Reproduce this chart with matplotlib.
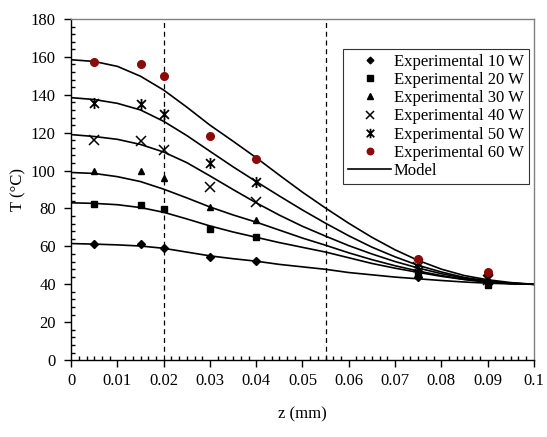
import matplotlib
matplotlib.use("Agg")
import matplotlib.pyplot as plt
from matplotlib.path import Path
from matplotlib.ticker import MultipleLocator, AutoMinorLocator, FuncFormatter

plt.rcParams["font.family"] = ["Liberation Serif", "DejaVu Serif"]
plt.rcParams["font.size"] = 12

# experimental positions (mm) and temperatures (°C)
z_exp = [0.005, 0.015, 0.02, 0.03, 0.04, 0.075, 0.09]
t_10w = [61.2, 61.2, 59.3, 54.6, 52.4, 44.0, 41.0]
t_20w = [82.4, 82.0, 79.7, 69.2, 65.1, 46.0, 39.5]
t_30w = [99.8, 99.8, 96.3, 80.6, 74.0, 47.5, 41.5]
t_40w = [116.0, 115.4, 111.0, 91.2, 83.5, 49.0, 42.5]
t_50w = [135.9, 135.0, 129.7, 103.8, 94.1, 51.0, 43.5]
t_60w = [157.2, 156.5, 150.0, 118.3, 106.0, 53.5, 46.3]

# model curves
z_mod = [0.0, 0.005, 0.01, 0.015, 0.02, 0.025, 0.03, 0.035, 0.04, 0.045, 0.05,
         0.055, 0.06, 0.065, 0.07, 0.075, 0.08, 0.085, 0.09, 0.095, 0.1]
m_10w = [61.5, 61.2, 60.8, 60.2, 59.0, 57.0, 55.0, 53.5, 52.2, 50.5, 49.2,
         47.9, 46.2, 45.0, 43.8, 42.9, 42.0, 41.2, 40.6, 40.2, 40.0]
m_20w = [83.0, 82.7, 82.0, 80.5, 78.0, 74.5, 70.8, 67.6, 64.8, 62.0, 59.5,
         57.0, 54.0, 51.0, 48.5, 46.3, 44.2, 42.5, 41.2, 40.4, 40.0]
m_30w = [99.0, 98.5, 96.8, 94.2, 90.2, 85.6, 80.8, 76.6, 72.8, 68.6, 64.4,
         60.6, 56.6, 53.0, 49.8, 47.0, 44.6, 42.6, 41.2, 40.4, 40.0]
m_40w = [119.0, 118.0, 116.5, 113.8, 109.8, 104.2, 97.2, 90.0, 83.0, 76.5, 70.6,
         65.4, 60.4, 56.0, 52.0, 48.6, 45.6, 43.2, 41.6, 40.5, 40.0]
m_50w = [138.5, 137.5, 135.5, 132.0, 126.0, 118.5, 110.2, 102.0, 94.2, 86.6, 79.2,
         72.2, 65.6, 59.6, 54.5, 50.0, 46.5, 43.6, 41.8, 40.6, 40.0]
m_60w = [158.5, 157.6, 155.0, 149.8, 142.5, 133.5, 124.0, 115.5, 106.8, 97.6, 88.6,
         80.2, 72.2, 64.8, 58.2, 52.6, 48.0, 44.6, 42.4, 40.9, 40.0]

labels = ["Experimental 10 W", "Experimental 20 W", "Experimental 30 W",
          "Experimental 40 W", "Experimental 50 W", "Experimental 60 W"]
dashed_z = [0.02, 0.055]

# X with a vertical bar, like the spreadsheet "asterisk" marker
star = Path([(-1, -1), (1, 1), (-1, 1), (1, -1), (0, -1.25), (0, 1.25)],
            [Path.MOVETO, Path.LINETO] * 3)

fig = plt.figure(figsize=(5.47, 4.37), dpi=100)
ax = fig.add_axes([0.13, 0.176, 0.846, 0.7805])

for m in (m_10w, m_20w, m_30w, m_40w, m_50w, m_60w):
    ax.plot(z_mod, m, color="black", lw=1.2, zorder=2)

styles = [
    (t_10w, dict(marker="D", ms=4, color="black")),
    (t_20w, dict(marker="s", ms=5, color="black")),
    (t_30w, dict(marker="^", ms=5, color="black")),
    (t_40w, dict(marker="x", ms=7, mew=1.1, color="black")),
    (t_50w, dict(marker=star, ms=8, mew=1.3, color="black")),
    (t_60w, dict(marker="o", ms=5.5, color="#8b0a0a", mec="#8b0a0a")),
]
handles = []
for (vals, kw), lab in zip(styles, labels):
    (h,) = ax.plot(z_exp, vals, ls="none", label=lab, zorder=3, **kw)
    handles.append(h)
(hm,) = ax.plot([], [], color="black", lw=1.2, label="Model")
handles.append(hm)

for zd in dashed_z:
    ax.axvline(zd, color="black", lw=0.9, ls=(0, (4, 3)), zorder=1)

ax.set_xlim(0, 0.1)
ax.set_ylim(0, 180)
ax.xaxis.set_major_locator(MultipleLocator(0.01))
ax.xaxis.set_minor_locator(AutoMinorLocator(6))
ax.yaxis.set_major_locator(MultipleLocator(20))
ax.yaxis.set_minor_locator(AutoMinorLocator(5))
ax.xaxis.set_major_formatter(FuncFormatter(lambda v, _: "0" if abs(v) < 1e-9 else f"{v:.2f}".rstrip("0")))
ax.tick_params(which="major", direction="out", length=5, width=1, pad=4)
ax.tick_params(axis="y", which="major", pad=6)
ax.tick_params(which="minor", direction="in", length=3, width=1)

for s in ("top", "right"):
    ax.spines[s].set_color("#808080")
for s in ax.spines.values():
    s.set_linewidth(1)

ax.set_xlabel("z (mm)", labelpad=13)
ax.set_ylabel("T (°C)", labelpad=3)

leg = ax.legend(handles=handles, loc="upper right",
                bbox_to_anchor=(529 / 547, 1 - 49 / 437), bbox_transform=fig.transFigure,
                borderaxespad=0, frameon=True, fancybox=False, edgecolor="black",
                handlelength=2.6, handletextpad=0.15, labelspacing=0.13,
                borderpad=0.3, fontsize=12, markerscale=0.85)
leg.get_frame().set_linewidth(0.8)

fig.savefig("out.png", dpi=100)
